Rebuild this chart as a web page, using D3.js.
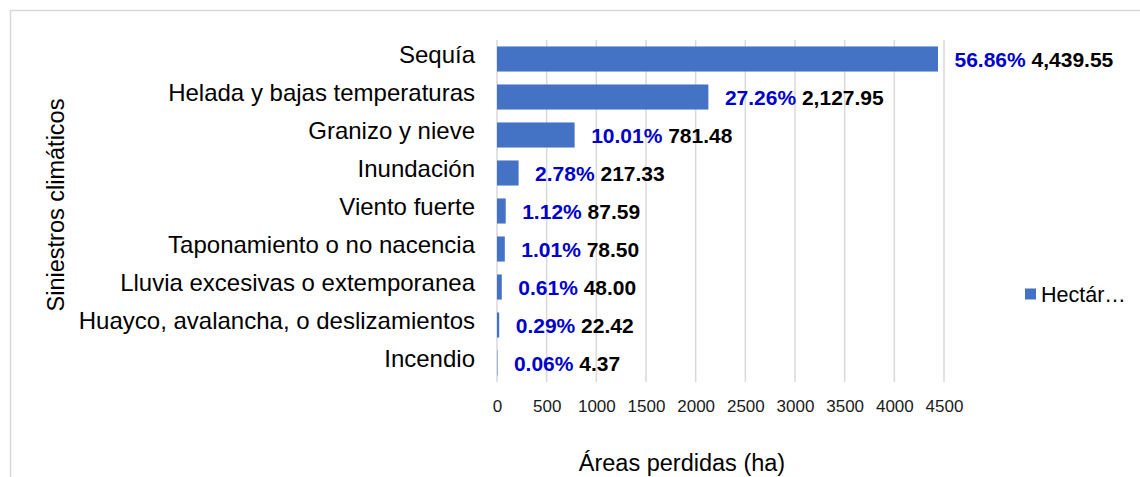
<!DOCTYPE html>
<html>
<head>
<meta charset="utf-8">
<script src="https://cdn.jsdelivr.net/npm/d3@7"></script>
<style>
  html, body { margin: 0; padding: 0; background: #fff; }
  svg { display: block; font-family: Arial, "Liberation Sans", sans-serif; }
</style>
</head>
<body>
<svg id="chart" width="1140" height="477"></svg>
<script>
// Climate-related losses by event type (hectares)
const categories = [
  "Sequía",
  "Helada y bajas temperaturas",
  "Granizo y nieve",
  "Inundación",
  "Viento fuerte",
  "Taponamiento o no nacencia",
  "Lluvia excesivas o extemporanea",
  "Huayco, avalancha, o deslizamientos",
  "Incendio"
];
const hectares = [4439.55, 2127.95, 781.48, 217.33, 87.59, 78.50, 48.00, 22.42, 4.37];
const xTicks = [0, 500, 1000, 1500, 2000, 2500, 3000, 3500, 4000, 4500];
const seriesName = "Hectár…";
const xTitle = "Áreas perdidas (ha)";
const yTitle = "Siniestros climáticos";

const total = d3.sum(hectares);
const rows = categories.map((c, i) => ({ cat: c, v: hectares[i], share: hectares[i] / total }));

const svg = d3.select("#chart");
const barColor = "#4472C4";
const gridColor = "#d9d9d9";

// outer chart frame (extends past the right and bottom edges)
svg.append("rect")
  .attr("x", 10.5).attr("y", 10.5)
  .attr("width", 1200).attr("height", 500)
  .attr("fill", "none").attr("stroke", gridColor).attr("stroke-width", 1.5);

const x = d3.scaleLinear().domain([0, 4500]).range([497, 944]);
const y = d3.scaleBand().domain(categories).range([40, 382])
  .paddingInner(0.34).paddingOuter(0.17);

// vertical gridlines
svg.append("g").selectAll("line").data(xTicks).join("line")
  .attr("x1", d => x(d)).attr("x2", d => x(d))
  .attr("y1", 40).attr("y2", 382)
  .attr("stroke", gridColor).attr("stroke-width", 1.5);

// x tick labels
const xAxis = d3.axisBottom(x).tickValues(xTicks).tickSize(0).tickPadding(0).tickFormat(d3.format("d"));
const gx = svg.append("g").attr("transform", "translate(0,400)").call(xAxis);
gx.select(".domain").remove();
gx.selectAll("text")
  .attr("font-size", 17).attr("fill", "#1a1a1a")
  .attr("font-family", "Arial, 'Liberation Sans', sans-serif");

// category labels
const yAxis = d3.axisLeft(y).tickSize(0).tickPadding(0);
const gy = svg.append("g").attr("transform", "translate(475,0)").call(yAxis);
gy.select(".domain").remove();
gy.selectAll("text")
  .attr("font-size", 24).attr("fill", "#000")
  .attr("dy", "0.16em")
  .attr("font-family", "Arial, 'Liberation Sans', sans-serif");

// bars
svg.append("g").selectAll("rect").data(rows).join("rect")
  .attr("x", x(0))
  .attr("y", d => y(d.cat))
  .attr("width", d => x(d.v) - x(0))
  .attr("height", y.bandwidth())
  .attr("fill", barColor);

// value labels: share of total (blue) followed by hectares (black)
const fmtPct = d3.format(".2%");
const fmtVal = d3.format(",.2f");
const lbl = svg.append("g").selectAll("text").data(rows).join("text")
  .attr("x", d => x(d.v) + 16.5)
  .attr("y", d => y(d.cat) + y.bandwidth() / 2)
  .attr("dy", "0.37em")
  .attr("font-size", 21).attr("font-weight", "bold");
lbl.append("tspan").attr("fill", "#0000CC").text(d => fmtPct(d.share));
lbl.append("tspan").attr("fill", "#000").text(d => " " + fmtVal(d.v));

// axis titles
svg.append("text")
  .attr("x", 682).attr("y", 471)
  .attr("text-anchor", "middle")
  .attr("font-size", 23.5).attr("fill", "#000")
  .text(xTitle);

svg.append("text")
  .attr("transform", "translate(64,205) rotate(-90)")
  .attr("text-anchor", "middle")
  .attr("font-size", 23.5).attr("fill", "#000")
  .text(yTitle);

// legend
const lg = svg.append("g").attr("transform", "translate(1025,294)");
lg.append("rect").attr("x", 0).attr("y", -5.5).attr("width", 11).attr("height", 11).attr("fill", barColor);
lg.append("text").attr("x", 16).attr("y", 0).attr("dy", "0.36em")
  .attr("font-size", 21.5).attr("fill", "#000").text(seriesName);
</script>
</body>
</html>
